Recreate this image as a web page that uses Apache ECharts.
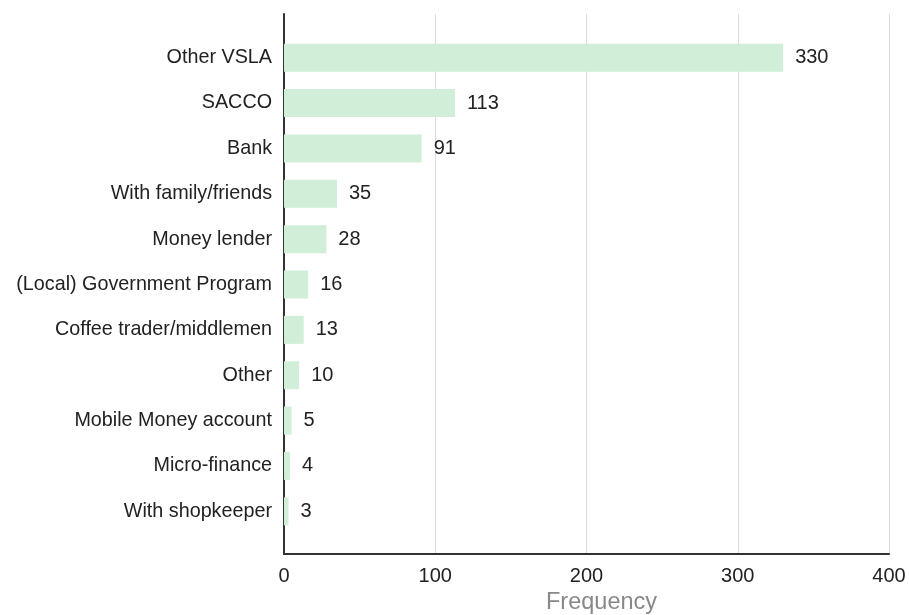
<!DOCTYPE html>
<html><head><meta charset="utf-8">
<script src="https://cdn.jsdelivr.net/npm/echarts@6/dist/echarts.min.js"></script>
<style>html,body{margin:0;padding:0;background:#fff}#c{width:909px;height:615px}</style>
</head><body><div id="c"></div>
<script>
const categories = ["Other VSLA","SACCO","Bank","With family/friends","Money lender","(Local) Government Program","Coffee trader/middlemen","Other","Mobile Money account","Micro-finance","With shopkeeper"];
const values = [330,113,91,35,28,16,13,10,5,4,3];
const xTicks = [0,100,200,300,400];

const chart = echarts.init(document.getElementById('c'));
const font = '"Liberation Sans", Arial, sans-serif';
chart.setOption({
  animation:false,
  grid:[
    {left:284,right:20,top:14,bottom:61,containLabel:false,outerBoundsMode:'none'},
    {left:284,right:20,top:35,bottom:81,containLabel:false,outerBoundsMode:'none'}
  ],
  xAxis:[
    {gridIndex:0,type:'value',min:xTicks[0],max:xTicks[xTicks.length-1],interval:100,
     axisLine:{show:true,lineStyle:{color:'#333',width:2}},axisTick:{show:false},
     splitLine:{show:true,lineStyle:{color:'#dcdcdc',width:1}},
     axisLabel:{color:'#222',fontSize:20,fontFamily:font,margin:12},
     name:'Frequency',nameLocation:'middle',nameGap:35,
     nameTextStyle:{color:'#888',fontSize:23.5,fontFamily:font,padding:[0,0,0,30]}},
    {gridIndex:1,type:'value',min:xTicks[0],max:xTicks[xTicks.length-1],show:false}
  ],
  yAxis:[
    {gridIndex:0,type:'value',min:0,max:1,axisLine:{show:true,lineStyle:{color:'#333',width:2}},
     axisTick:{show:false},axisLabel:{show:false},splitLine:{show:false}},
    {gridIndex:1,type:'category',data:categories,inverse:true,
     axisLine:{show:false},axisTick:{show:false},
     axisLabel:{color:'#222',fontSize:19.75,fontFamily:font,margin:12,padding:[4,0,0,0]}}
  ],
  series:[{
    type:'bar',xAxisIndex:1,yAxisIndex:1,data:values,barWidth:28,
    itemStyle:{color:'#d1eed8'},
    label:{show:true,position:'right',distance:12,color:'#222',fontSize:20,fontFamily:font,padding:[4,0,0,0]}
  }]
});
</script></body></html>
